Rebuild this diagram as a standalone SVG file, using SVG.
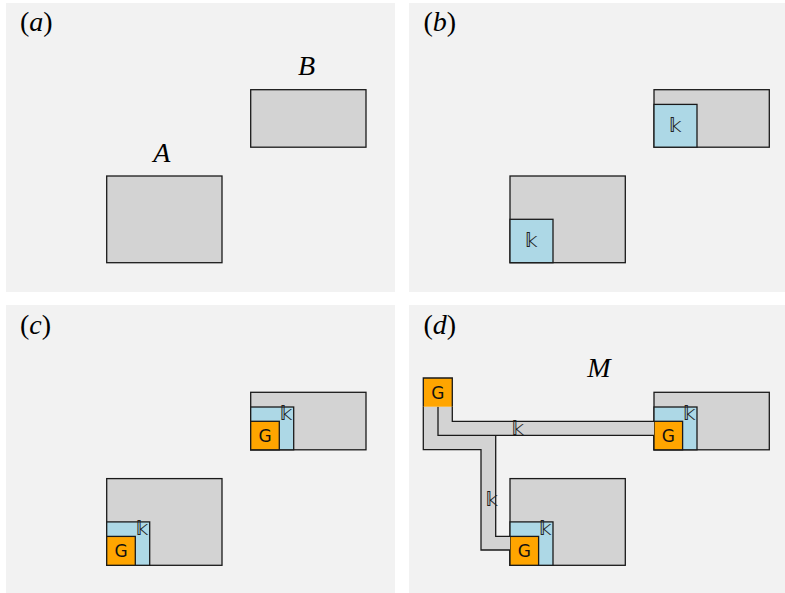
<svg xmlns="http://www.w3.org/2000/svg" width="785" height="593" viewBox="0 0 785 593">
<style>
.bg{fill:#f2f2f2}
.box{fill:#d3d3d3;stroke:#1a1a1a;stroke-width:1.3}
.kb{fill:#add8e6;stroke:#1a1a1a;stroke-width:1.3}
.g{fill:#ffa500;stroke:#1a1a1a;stroke-width:1.3}
.gf{fill:#ffa500}
.band{fill:#d3d3d3}
.ln{fill:none;stroke:#1a1a1a;stroke-width:1.3}
.lbl{font-family:"Liberation Serif",serif;font-size:28px;fill:#000}
.it{font-style:italic}
.gt{font-family:"DejaVu Sans",sans-serif;font-size:17px;fill:#111;text-anchor:middle}
.kt{font-family:"DejaVu Sans","Noto Sans",sans-serif;font-size:19px;fill:#222;text-anchor:middle}
</style>
<rect width="785" height="593" fill="#ffffff"/>

<g id="panel-a">
<rect class="bg" x="6" y="3" width="389" height="289"/>
<text class="lbl" x="20" y="31">(<tspan class="it">a</tspan>)</text>
<g id="a-B">
<rect class="box" x="250.7" y="89.7" width="115.3" height="57.5"/>
<text class="lbl it" x="306.5" y="75" text-anchor="middle">B</text>
</g>
<g id="a-A">
<rect class="box" x="106.7" y="176" width="115.3" height="86.7"/>
<text class="lbl it" x="161.7" y="161.7" text-anchor="middle">A</text>
</g>
</g>

<g id="panel-b">
<rect class="bg" x="409" y="3" width="376" height="289"/>
<text class="lbl" x="423.5" y="31">(<tspan class="it">b</tspan>)</text>
<g transform="translate(403.3,0)">
<g id="b-B">
<rect class="box" x="250.7" y="89.7" width="115.3" height="57.5"/>
<rect class="kb" x="250.7" y="104.4" width="43" height="42.8"/>
<text class="kt" x="272" y="132">𝕜</text>
</g>
<g id="b-A">
<rect class="box" x="106.7" y="176" width="115.3" height="86.7"/>
<rect class="kb" x="106.7" y="219.3" width="43" height="43.4"/>
<text class="kt" x="128" y="247">𝕜</text>
</g>
</g>
</g>

<g id="panel-c">
<rect class="bg" x="6" y="305" width="389" height="288"/>
<text class="lbl" x="20" y="333.6">(<tspan class="it">c</tspan>)</text>
<g transform="translate(0,302.6)">
<g id="c-B">
<rect class="box" x="250.7" y="89.7" width="115.3" height="57.5"/>
<rect class="kb" x="250.7" y="104.4" width="43" height="42.8"/>
<rect class="g" x="250.7" y="118.7" width="28.6" height="28.5"/>
<text class="gt" x="265" y="139.2">G</text>
<text class="kt" x="286" y="117.6">𝕜</text>
</g>
<g id="c-A">
<rect class="box" x="106.7" y="176" width="115.3" height="86.7"/>
<rect class="kb" x="106.7" y="219.3" width="43" height="43.4"/>
<rect class="g" x="106.7" y="233.8" width="28.6" height="28.9"/>
<text class="gt" x="121" y="254.5">G</text>
<text class="kt" x="142" y="232.8">𝕜</text>
</g>
</g>
</g>

<g id="panel-d">
<rect class="bg" x="409" y="305" width="376" height="288"/>
<text class="lbl" x="423.5" y="333.6">(<tspan class="it">d</tspan>)</text>
<text class="lbl it" x="599" y="377" text-anchor="middle">M</text>
<g transform="translate(403.3,302.6)">
<g id="d-B">
<rect class="box" x="250.7" y="89.7" width="115.3" height="57.5"/>
<rect class="kb" x="250.7" y="104.4" width="43" height="42.8"/>
<rect class="g" x="250.7" y="118.7" width="28.6" height="28.5"/>
<text class="gt" x="265" y="139.2">G</text>
<text class="kt" x="286" y="117.6">𝕜</text>
</g>
<g id="d-A">
<rect class="box" x="106.7" y="176" width="115.3" height="86.7"/>
<rect class="kb" x="106.7" y="219.3" width="43" height="43.4"/>
<rect class="g" x="106.7" y="233.8" width="28.6" height="28.9"/>
<text class="gt" x="121" y="254.5">G</text>
<text class="kt" x="142" y="232.8">𝕜</text>
</g>
<g id="connectors">
<polygon class="band" points="20,104.1 49,104.1 49,118.7 250.7,118.7 250.7,132.7 92.4,132.7 92.4,233.8 106.7,233.8 106.7,247.4 77.7,247.4 77.7,147.1 20,147.1"/>
<polyline class="ln" points="20,104.1 20,147.1 77.7,147.1 77.7,247.4 106.7,247.4"/>
<polyline class="ln" points="49,104.1 49,118.7 250.7,118.7"/>
<polyline class="ln" points="34.7,104.1 34.7,132.7 250.7,132.7"/>
<polyline class="ln" points="92.4,132.7 92.4,233.8 106.7,233.8"/>
<text class="kt" x="114.4" y="132">𝕜</text>
<text class="kt" x="88.5" y="203.6">𝕜</text>
</g>
<g id="d-G">
<rect class="gf" x="20" y="75.4" width="29" height="28.7"/>
<polyline class="ln" points="20,104.1 20,75.4 49,75.4 49,104.1"/>
<text class="gt" x="34.5" y="96.2">G</text>
</g>
</g>
</g>
</svg>
